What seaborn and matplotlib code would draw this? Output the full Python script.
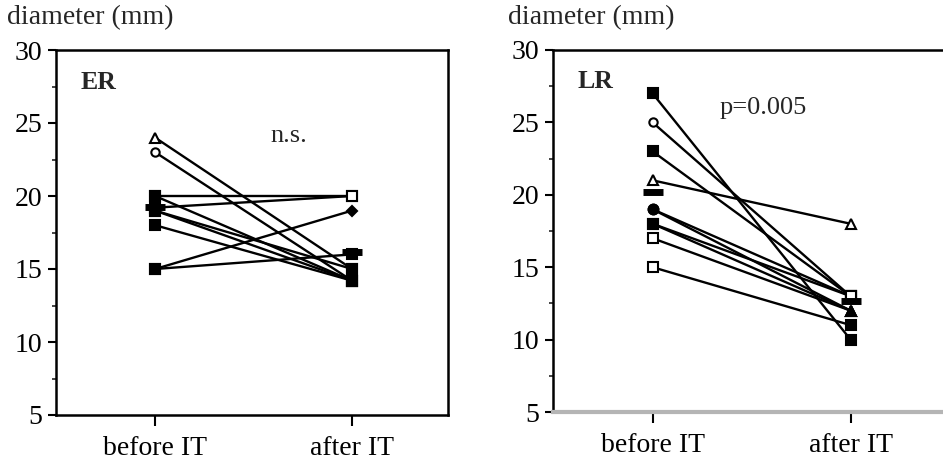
import matplotlib
matplotlib.use("Agg")
import matplotlib.pyplot as plt
from matplotlib.ticker import MultipleLocator
import seaborn as sns
import pandas as pd

# ---- data ----
timepoints = ["before IT", "after IT"]
er_before = [24, 23, 20, 20, 19.2, 19, 19, 18, 15, 15]
er_after = [15, 14.2, 20, 14.2, 20, 15, 14.2, 14.2, 19, 16]
lr_before = [27, 25, 23, 21, 19, 19, 18, 18, 17, 15]
lr_after = [10, 13, 13, 18, 13, 12, 13, 12, 12, 11]
panel_labels = ["ER", "LR"]
stat_labels = ["n.s.", "p=0.005"]
ylabel_text = "diameter (mm)"

# marker styles per point (style only)
er_before_mk = ["ot", "oc", "fs", "fs", "fs", "fs", "fs", "fs", "fs", "fs"]
er_after_mk = ["fs", "fs", "os", "fs", "os", "fs", "fs", "fs", "fd", "fs"]
lr_before_mk = ["fs", "oc", "fs", "ot", "fc", "fc", "fs", "fs", "os", "os"]
lr_after_mk = ["fs", "os", "os", "ot", "os", "ft", "os", "ft", "ft", "fs"]

STYLE = {
    "fs": dict(marker="s", ms=6.5, mfc="black"),
    "os": dict(marker="s", ms=6.5, mfc="white"),
    "ot": dict(marker="^", ms=7.5, mfc="white"),
    "ft": dict(marker="^", ms=7.5, mfc="black"),
    "oc": dict(marker="o", ms=6, mfc="white"),
    "fc": dict(marker="o", ms=7, mfc="black"),
    "fd": dict(marker="D", ms=5.5, mfc="black"),
}

sns.set_theme(style="white")
plt.rcParams["font.family"] = ["Liberation Serif", "DejaVu Serif"]

fig = plt.figure(figsize=(9.43, 4.66), dpi=100)
ax1 = fig.add_axes([56 / 943, 1 - 415 / 466, (448 - 56) / 943, (415 - 50) / 466])
ax2 = fig.add_axes([553 / 943, 1 - 412 / 466, 394 / 943, (412 - 50) / 466])


def draw_panel(ax, before, after, bmk, amk, label, stat, stat_xy, gray_bottom):
    n = len(before)
    df = pd.DataFrame({
        "subject": list(range(n)) * 2,
        "time": [timepoints[0]] * n + [timepoints[1]] * n,
        "value": list(before) + list(after),
    })
    sns.lineplot(data=df, x="time", y="value", units="subject", estimator=None,
                 color="black", linewidth=1.7, ax=ax, legend=False, sort=False)
    # individual markers
    for vals, mks, t in ((before, bmk, timepoints[0]), (after, amk, timepoints[1])):
        for v, m in zip(vals, mks):
            st = STYLE[m]
            ax.plot([t], [v], linestyle="none", marker=st["marker"], ms=st["ms"],
                    mfc=st["mfc"], mec="black", mew=1.5, zorder=4)
    # mean bars
    means = df.groupby("time", sort=False)["value"].mean()
    ax.plot(list(means.index), list(means.values), linestyle="none", marker="_",
            ms=14, mew=5, color="black", zorder=5)

    ax.set_ylim(5, 30)
    ax.set_xlim(-0.503, 1.487)
    ax.yaxis.set_major_locator(MultipleLocator(5))
    ax.yaxis.set_minor_locator(MultipleLocator(2.5))
    ax.set_xlabel("")
    ax.set_ylabel("")
    ax.tick_params(axis="y", which="major", direction="out", length=6, width=1.5,
                   labelsize=20, pad=4, left=True, colors="black")
    ax.tick_params(axis="y", which="minor", direction="out", length=3, width=1.2, left=True)
    ax.tick_params(axis="x", which="major", direction="out", length=8, width=1.5,
                   labelsize=20, pad=7, bottom=True, colors="black")
    for s in ax.spines.values():
        s.set_color("black")
        s.set_linewidth(1.8)
    if gray_bottom:
        ax.spines["bottom"].set_color("#b5b5b5")
        ax.spines["bottom"].set_linewidth(3)
        ax.spines["right"].set_visible(False)
    ax.text(-0.38, 27.8, label, fontsize=18.5, fontweight="bold", ha="left", va="center")
    ax.text(stat_xy[0], stat_xy[1], stat, fontsize=19, ha="center", va="center")
    ax.set_facecolor("white")


draw_panel(ax1, er_before, er_after, er_before_mk, er_after_mk,
           panel_labels[0], stat_labels[0], (0.68, 24.1), False)
draw_panel(ax2, lr_before, lr_after, lr_before_mk, lr_after_mk,
           panel_labels[1], stat_labels[1], (0.56, 26.0), True)

fig.text(7 / 943, 1 - 18 / 466, ylabel_text, fontsize=20, ha="left", va="center")
fig.text(508 / 943, 1 - 18 / 466, ylabel_text, fontsize=20, ha="left", va="center")

fig.savefig("out.png", dpi=100, facecolor="white")
